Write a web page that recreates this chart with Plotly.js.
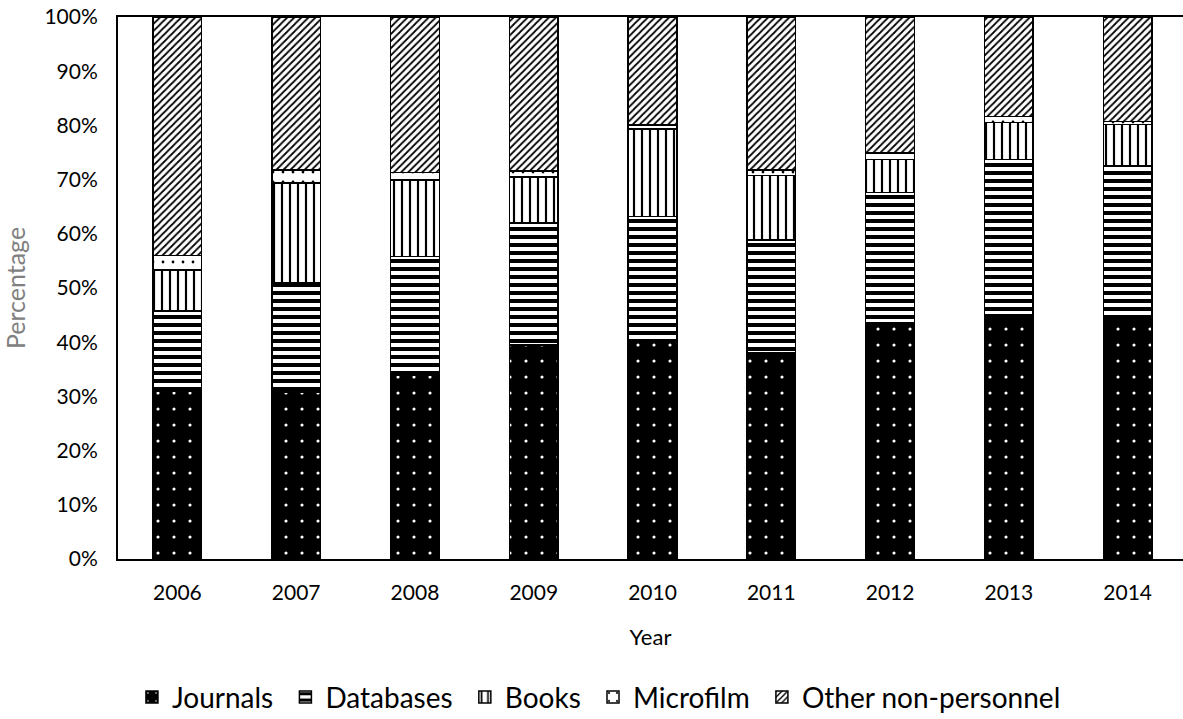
<!DOCTYPE html>
<html><head><meta charset="utf-8">
<script src="https://cdn.plot.ly/plotly-3.0.1.min.js"></script>
<style>html,body{margin:0;padding:0;overflow:hidden;background:#fff}</style>
</head><body><div id="chart" style="width:1183px;height:719px"></div>
<script>
const years = ['2006','2007','2008','2009','2010','2011','2012','2013','2014'];
const journals = [30.9, 30.8, 33.9, 39.5, 40.1, 38.0, 43.5, 45.0, 44.7];
const databases = [14.9, 20.1, 21.9, 22.5, 23.1, 20.9, 24.1, 28.7, 27.8];
const books = [7.5, 18.5, 14.1, 8.5, 16.1, 11.9, 6.1, 6.8, 7.7];
const microfilm = [2.7, 2.4, 1.4, 1.1, 0.8, 1.0, 1.2, 1.1, 0.5];
const other = [44.0, 28.2, 28.7, 28.4, 19.9, 28.2, 25.1, 18.4, 19.3];
const seriesNames = ['Journals', 'Databases', 'Books', 'Microfilm', 'Other non-personnel'];
const yTicks = [0,10,20,30,40,50,60,70,80,90,100];
const yTickText = yTicks.map(v => v + '%');

const font = 'Lato, "Open Sans", sans-serif';
function tr(name, vals, pattern, bg, last) {
  return {
    type: 'bar', name: last ? name : name + '\u00a0', x: years, y: vals,
    marker: {color: bg, line: {color: '#000', width: 1.5}, pattern: pattern},
    hoverinfo: 'skip'
  };
}
const data = [
  tr(seriesNames[0], journals, {shape: '.', bgcolor: '#000', fgcolor: '#fff', size: 16, solidity: 0.03}, '#000'),
  tr(seriesNames[1], databases, {shape: '-', bgcolor: '#fff', fgcolor: '#000', size: 8, solidity: 0.5}, '#fff'),
  tr(seriesNames[2], books, {shape: '|', bgcolor: '#fff', fgcolor: '#000', size: 8, solidity: 0.27}, '#fff'),
  tr(seriesNames[3], microfilm, {shape: '.', bgcolor: '#fff', fgcolor: '#000', size: 10, solidity: 0.06}, '#fff'),
  tr(seriesNames[4], other, {shape: '/', bgcolor: '#fff', fgcolor: '#000', size: 5, solidity: 0.35}, '#fff', true)
];

const layout = {
  width: 1183, height: 719,
  margin: {l: 118, r: 0, t: 17, b: 160, autoexpand: false},
  barmode: 'stack', bargap: 0.59,
  paper_bgcolor: '#fff', plot_bgcolor: '#fff',
  font: {family: font, size: 21, color: '#000'},
  xaxis: {
    type: 'category', range: [-0.5, 8.466], automargin: false,
    showline: true, linecolor: '#000', linewidth: 2, mirror: true,
    ticks: 'outside', ticklen: 14, tickcolor: 'rgba(0,0,0,0)', showgrid: false,
    tickfont: {size: 21, color: '#000'},
    title: {text: 'Year', font: {size: 22, color: '#000'}, standoff: 26}
  },
  yaxis: {
    range: [0, 100], tickvals: yTicks, ticktext: yTickText, automargin: false,
    showline: true, linecolor: '#000', linewidth: 2,
    ticks: 'outside', ticklen: 14, tickcolor: 'rgba(0,0,0,0)', showgrid: false, zeroline: false,
    tickfont: {size: 21, color: '#000'},
    title: {text: 'Percentage', font: {size: 25, color: '#808080'}, standoff: 14}
  },
  legend: {
    orientation: 'h', x: 0.4516, xanchor: 'center', y: -0.255, yanchor: 'middle',
    font: {size: 28, color: '#000'}, traceorder: 'normal', itemwidth: 30
  },
  showlegend: true
};
Plotly.newPlot('chart', data, layout, {staticPlot: true});
</script></body></html>
